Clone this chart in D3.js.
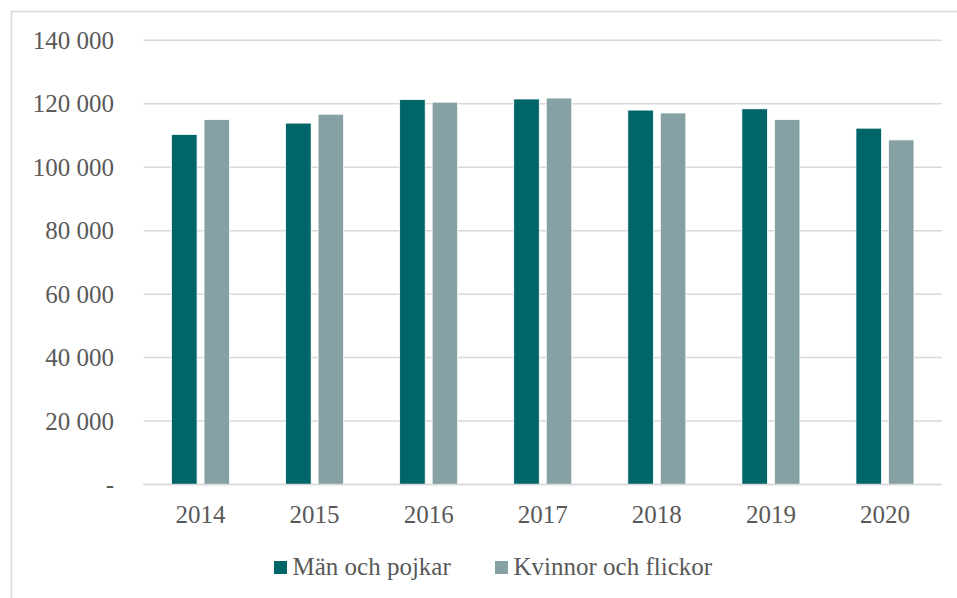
<!DOCTYPE html>
<html>
<head>
<meta charset="utf-8">
<script src="https://cdn.jsdelivr.net/npm/d3@7"></script>
<style>
	body { margin: 0; background: #fff; }
</style>
</head>
<body>
<svg id="chart" width="957" height="598"></svg>
<script>
'use strict';

//Chart data
var years = ["2014", "2015", "2016", "2017", "2018", "2019", "2020"];
var seriesNames = ["Män och pojkar", "Kvinnor och flickor"];
var menValues = [110300, 113900, 121300, 121500, 118000, 118400, 112300];
var womenValues = [115000, 116700, 120500, 121800, 117100, 115000, 108600];
var yTicks = [0, 20000, 40000, 60000, 80000, 100000, 120000, 140000];
var colors = ["#006569", "#86a1a4"];

var FONT = "'Liberation Serif', 'Times New Roman', 'DejaVu Serif', serif";
var TEXT_COLOR = "#595959";

var svg = d3.select("#chart");

//Outer chart frame (right and bottom edges fall outside the picture)
svg.append("rect")
	.attr("x", 11.5).attr("y", 11.5)
	.attr("width", 980).attr("height", 620)
	.attr("fill", "none")
	.attr("stroke", "#d9d9d9")
	.attr("stroke-width", 1.5);

var plot = { left: 143.5, right: 942, top: 40.3, bottom: 484.5 };

var y = d3.scaleLinear()
	.domain([0, 140000])
	.range([plot.bottom, plot.top]);

var x0 = d3.scaleBand()
	.domain(years)
	.range([plot.left, plot.right])
	.padding(0);

var groupWidth = 58;
var x1 = d3.scaleBand()
	.domain(seriesNames)
	.range([(x0.bandwidth() - groupWidth) / 2, (x0.bandwidth() + groupWidth) / 2])
	.paddingInner(0.215);

var fmt = function(v) {
	if(v === 0) return "-";
	return d3.format(",")(v).replace(/,/g, " ");
};

//Gridlines
svg.append("g").selectAll("line")
	.data(yTicks)
	.enter().append("line")
	.attr("x1", plot.left).attr("x2", plot.right)
	.attr("y1", function(d) { return y(d); })
	.attr("y2", function(d) { return y(d); })
	.attr("stroke", "#d9d9d9")
	.attr("stroke-width", 1.5);

//Y axis labels
var yAxis = d3.axisLeft(y).tickValues(yTicks).tickFormat(fmt).tickSize(0).tickPadding(0);
var yAxisG = svg.append("g")
	.attr("transform", "translate(114,0)")
	.call(yAxis)
	.attr("font-family", FONT);
yAxisG.select(".domain").remove();
yAxisG.selectAll("text")
	.style("font-family", FONT)
	.style("font-size", "25px")
	.style("fill", TEXT_COLOR)
	.attr("dy", "0.32em");

//Bars
var rows = years.map(function(yr, i) {
	return { year: yr, values: [menValues[i], womenValues[i]] };
});

var groups = svg.append("g").selectAll("g")
	.data(rows)
	.enter().append("g")
	.attr("transform", function(d) { return "translate(" + x0(d.year) + ",0)"; });

groups.selectAll("rect")
	.data(function(d) {
		return d.values.map(function(v, k) { return { name: seriesNames[k], value: v, idx: k }; });
	})
	.enter().append("rect")
	.attr("x", function(d) { return x1(d.name); })
	.attr("width", x1.bandwidth())
	.attr("y", function(d) { return y(d.value); })
	.attr("height", function(d) { return y(0) - y(d.value); })
	.attr("fill", function(d) { return colors[d.idx]; })
	.attr("stroke", "#fff")
	.attr("stroke-width", 0.75);

//X axis baseline
svg.append("line")
	.attr("x1", plot.left).attr("x2", plot.right)
	.attr("y1", y(0)).attr("y2", y(0))
	.attr("stroke", "#d9d9d9")
	.attr("stroke-width", 1.5);

//X axis labels
var xAxis = d3.axisBottom(x0).tickSize(0).tickPadding(0);
var xAxisG = svg.append("g")
	.attr("transform", "translate(0," + (y(0) + 38.5) + ")")
	.call(xAxis)
	.attr("font-family", FONT);
xAxisG.select(".domain").remove();
xAxisG.selectAll("text")
	.style("font-family", FONT)
	.style("font-size", "25px")
	.style("fill", TEXT_COLOR)
	.attr("dy", null)
	.attr("y", 0);

//Legend
var legendItems = [
	{ name: seriesNames[0], color: colors[0], x: 274 },
	{ name: seriesNames[1], color: colors[1], x: 495 }
];

var legend = svg.append("g").selectAll("g")
	.data(legendItems)
	.enter().append("g")
	.attr("transform", function(d) { return "translate(" + d.x + ",561)"; });

legend.append("rect")
	.attr("width", 13).attr("height", 13)
	.attr("fill", function(d) { return d.color; });

legend.append("text")
	.attr("x", 18.5)
	.attr("y", 13.5)
	.style("font-family", FONT)
	.style("font-size", "25px")
	.style("fill", TEXT_COLOR)
	.text(function(d) { return d.name; });
</script>
</body>
</html>
